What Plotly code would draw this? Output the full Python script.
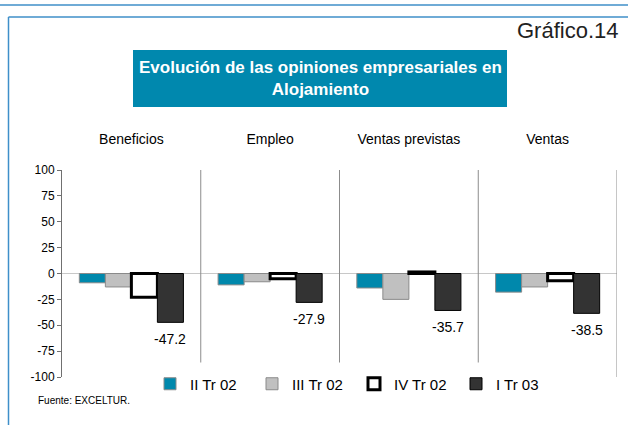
import plotly.graph_objects as go

categories = ["Beneficios", "Empleo", "Ventas previstas", "Ventas"]
series_names = ["II Tr 02", "III Tr 02", "IV Tr 02", "I Tr 03"]
ii_tr_02 = [-9, -11, -14, -18]
iii_tr_02 = [-13, -8, -25, -13]
iv_tr_02 = [-23, -5, 1.5, -7]
i_tr_03 = [-47.2, -27.9, -35.7, -38.5]
y_ticks = [100, 75, 50, 25, 0, -25, -50, -75, -100]

values = [ii_tr_02, iii_tr_02, iv_tr_02, i_tr_03]
fills = ["#0088AC", "#C0C0C0", "#FFFFFF", "#333333"]
lines = ["#8A8A8A", "#8A8A8A", "#000000", "#000000"]
lwidths = [1, 1, 3, 1]

W, H = 628, 425
L, R, T, B = 62, 11, 170, 48
pw, ph = W - L - R, H - T - B

def px(x):
    return (x - L) / pw

def py(y):
    return (H - B - y) / ph

fig = go.Figure()
for name, vals, fc, lc, lw in zip(series_names, values, fills, lines, lwidths):
    fig.add_trace(go.Bar(
        name=name, x=categories, y=vals,
        marker=dict(color=fc, line=dict(color=lc, width=lw)),
    ))

# data labels for I Tr 03 (last bar of each group)
bargap = 0.25
group_px = pw / len(categories) * (1 - bargap)
bar_px = group_px / len(series_names)
for c, v in zip(categories, i_tr_03):
    fig.add_annotation(x=c, y=v, xref="x", yref="y", text=f"{v:.1f}",
                       showarrow=False, xshift=1.5 * bar_px, yshift=-17,
                       font=dict(size=14, color="#000000",
                                 family="Liberation Sans Narrow, Liberation Sans, Arial"))

# separators between categories
for i in range(len(categories)):
    fig.add_shape(type="line", xref="x", yref="y",
                  x0=i + 0.5, x1=i + 0.5, y0=100,
                  y1=-100 if i == len(categories) - 1 else -86,
                  line=dict(color="#8C8C8C", width=1))

# frame
fig.add_shape(type="line", xref="paper", yref="paper", x0=px(-5), x1=px(640),
              y0=py(5), y1=py(5), line=dict(color="#3F8FC9", width=1.5))
fig.add_shape(type="line", xref="paper", yref="paper", x0=px(8.5), x1=px(640),
              y0=py(17), y1=py(17), line=dict(color="#3F8FC9", width=1.5))
fig.add_shape(type="line", xref="paper", yref="paper", x0=px(8.5), x1=px(8.5),
              y0=py(17), y1=py(440), line=dict(color="#3F8FC9", width=1.5))

# title box
fig.add_shape(type="rect", xref="paper", yref="paper", x0=px(133), x1=px(507),
              y0=py(107), y1=py(50), fillcolor="#0088AE", line=dict(width=0))
fig.add_annotation(xref="paper", yref="paper", x=px(320), y=py(78.5),
                   xanchor="center", yanchor="middle",
                   text="<b>Evolución de las opiniones empresariales en<br>Alojamiento</b>",
                   showarrow=False, font=dict(size=17, color="#FFFFFF",
                                              family="Liberation Sans Narrow, Liberation Sans, Arial"),
                   align="center")
fig.add_annotation(xref="paper", yref="paper", x=px(621), y=py(30.5),
                   xanchor="right", yanchor="middle",
                   text="Gráfico.14", showarrow=False,
                   font=dict(size=22, color="#222222", family="Liberation Sans, Arial"))
fig.add_annotation(xref="paper", yref="paper", x=px(36), y=py(400),
                   xanchor="left", yanchor="middle",
                   text="Fuente: EXCELTUR.", showarrow=False,
                   font=dict(size=10, color="#000000", family="Liberation Sans Narrow, Liberation Sans, Arial"))

fig.update_layout(
    width=W, height=H,
    margin=dict(l=L, r=R, t=T, b=B, autoexpand=False),
    paper_bgcolor="#FFFFFF", plot_bgcolor="#FFFFFF",
    barmode="group", bargap=bargap, bargroupgap=0,
    showlegend=True,
    legend=dict(orientation="h", x=px(150), y=py(384), yanchor="middle", xanchor="left",
                entrywidth=57, entrywidthmode="pixels",
                font=dict(size=15, color="#000000", family="Liberation Sans Narrow, Liberation Sans, Arial"),
                bgcolor="rgba(0,0,0,0)", itemclick=False, traceorder="normal"),
    font=dict(family="Liberation Sans, Arial", color="#000000"),
)
fig.update_xaxes(side="top", showline=False, showgrid=False, ticks="",
                 ticklabelstandoff=22, tickfont=dict(size=14, color="#000000",
                                                     family="Liberation Sans Narrow, Liberation Sans, Arial"),
                 range=[-0.5, 3.5], zeroline=False)
fig.update_yaxes(range=[-100, 100], tickvals=y_ticks, ticktext=[str(t) for t in y_ticks],
                 showgrid=False, showline=True, linecolor="#707070", linewidth=1,
                 ticks="outside", ticklen=4, tickcolor="#707070",
                 zeroline=True, zerolinecolor="#C8C8C8", zerolinewidth=1,
                 tickfont=dict(size=12, color="#000000", family="Liberation Sans Narrow, Liberation Sans, Arial"))

fig.write_html("out.html", config={"displayModeBar": False},
               post_script="document.body.style.margin='0';")
